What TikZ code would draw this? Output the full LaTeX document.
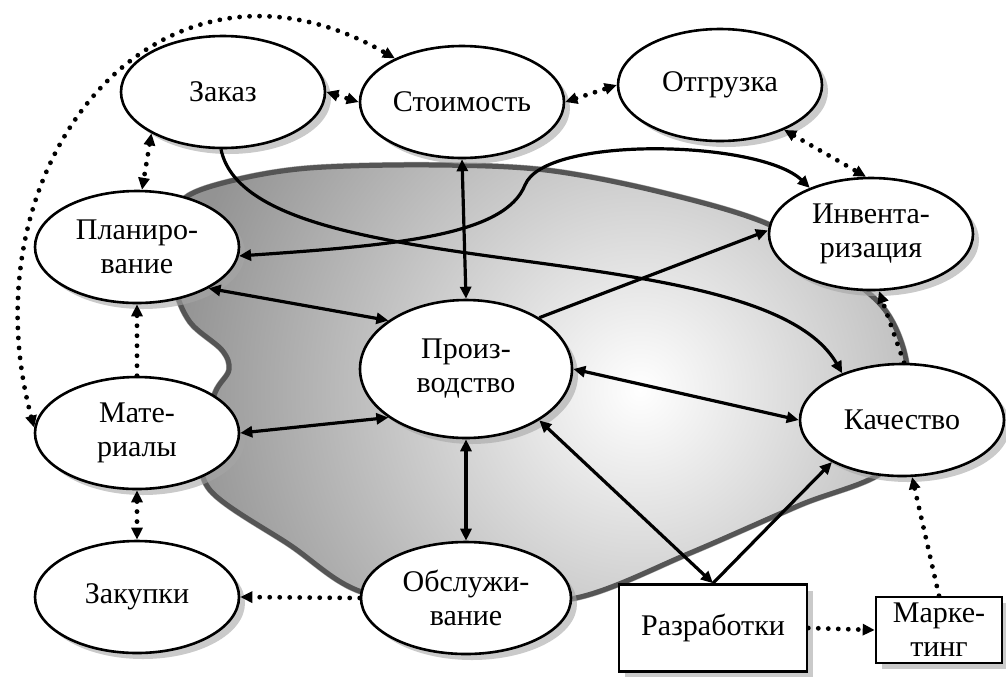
\documentclass[tikz,border=0pt]{standalone}
\usepackage{fontspec}
\setmainfont{Liberation Serif}
\usetikzlibrary{positioning,backgrounds,shapes.geometric,shadows,arrows.meta}
\definecolor{rim}{RGB}{85,85,85}
\definecolor{rimshade}{RGB}{165,165,165}
\tikzset{
    >={Triangle[length=6pt,width=5.5pt]},
    base/.style={
        draw=black,
        fill=white,
        line width=1.3pt,
        align=center,
        font=\fontsize{15}{17}\selectfont,
        drop shadow={shadow xshift=3pt, shadow yshift=-3pt, fill=gray!70, opacity=.6},
    },
    % Functional unit
    unit/.style={
        base,
        ellipse,
        minimum width=102pt,
        minimum height=56pt,
        inner sep=0pt,
    },
    % Central unit
    core/.style={
        unit,
        minimum width=106pt,
        minimum height=69pt,
    },
    % Rectangular unit
    box/.style={
        base,
        rectangle,
        inner sep=0pt,
    },
    % Solid connectors
    link/.style={line width=1.6pt, <->},
    link to/.style={line width=1.6pt, ->},
    % Dotted connectors
    dotlink/.style={line width=2.4pt, line cap=round, dash pattern=on 0pt off 5pt, <->},
    dotlink to/.style={line width=2.4pt, line cap=round, dash pattern=on 0pt off 5pt, ->},
}

\begin{document}
\begin{tikzpicture}[x=0.5pt, y=-0.5pt]
\useasboundingbox (0,0) rectangle (1006,676);
% Units
\node[unit] (zakaz) at (223,92) {Заказ};
\node[unit] (stoim) at (462,102) {Стоимость};
\node[unit] (otgr) at (720,85) {Отгрузка};
\node[unit] (plan) at (137,247) {Планиро-\\вание};
\node[unit] (invent) at (871,234) {Инвента-\\ризация};
\node[core] (proizv) at (466,369) {Произ-\\водство};
\node[unit] (mater) at (137,433) {Мате-\\риалы};
\node[unit] (kach) at (902,420) {Качество};
\node[unit] (zakup) at (137,597) {Закупки};
\node[unit, minimum width=105pt] (obsl) at (466,598) {Обслужи-\\вание};
\node[box, minimum width=94pt, minimum height=43.5pt] (razrab) at (713,628) {Разработки};
\node[box, minimum width=63pt, minimum height=33pt] (market) at (939,630) {Марке-\\тинг};

% Dotted links
\draw[dotlink] (mater.177) to[out=105, in=150, looseness=1.35] (stoim.147);
\draw[dotlink] (zakaz.east) -- (stoim.west);
\draw[dotlink] (stoim.east) -- (otgr.west);
\draw[dotlink] (otgr.-35) -- (invent.95);
\draw[dotlink] (zakaz.-150) -- (plan.85);
\draw[dotlink to] (mater.north) -- (plan.south);
\draw[dotlink] (mater.south) -- (zakup.north);
\draw[dotlink to] (obsl.west) -- (zakup.east);
\draw[dotlink to] (razrab.east) -- (market.west);
\draw[dotlink to] (market.north) -- (kach.-80);
\draw[dotlink to] (kach.88) -- (invent.-82);

% Solid links
\draw[link] (stoim.south) -- (proizv.north);
\draw[link] (proizv.south) -- (obsl.north);
\draw[link] (plan.-30) -- (proizv.148);
\draw[link] (mater.east) -- (proizv.-148);
\draw[link] (proizv.east) -- (kach.west);
\draw[link] (proizv.-35) -- (razrab.north);
\draw[link to] (razrab.north) -- (kach.-149);
\draw[link to] (proizv.35) -- (invent.178);
\draw[link to] (zakaz.-92) .. controls (250,290) and (760,230) .. (kach.142);
\draw[link] (plan.-5) .. controls (400,245) and (505,235) .. (525,185)
    .. controls (545,135) and (760,140) .. (invent.143);

% Background area
\begin{scope}[on background layer]
    \path[save path=\blob] plot[smooth cycle, tension=.55] coordinates {
        (185,198) (235,180) (310,168) (430,165) (545,170) (660,192)
        (770,225) (845,275) (885,310) (905,355) (908,410) (885,470)
        (800,505) (690,553) (580,597) (470,605) (362,592) (290,545)
        (210,490) (203,440) (215,393) (229,370) (222,350) (190,322)
        (175,285) (175,230)};
    \fill[rimshade, draw=rimshade, line width=3pt, xshift=3pt, yshift=-3pt, use path=\blob];
    \begin{scope}
        \clip[use path=\blob];
        \fill[gray!85] (150,150) rectangle (950,620);
        \shade[inner color=white, outer color=gray!85] (640,390) circle (470);
    \end{scope}
    \draw[rim, line width=2.5pt, use path=\blob];
\end{scope}
\end{tikzpicture}
\end{document}
